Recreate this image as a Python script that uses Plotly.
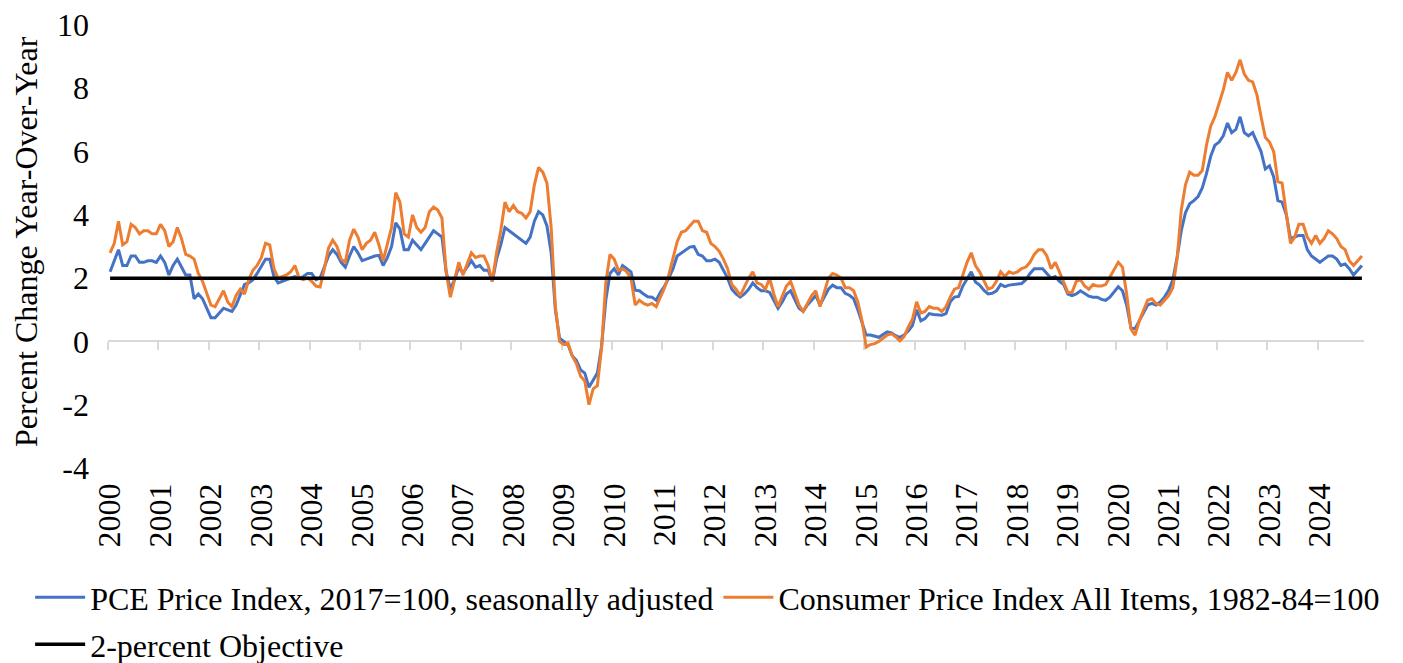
import plotly.graph_objects as go

# ---------------- data (monthly, Jan 2000 - Nov 2024) ----------------
year_labels = [str(y) for y in range(2000, 2025)]

pce = [
    # 2000
    2.2, 2.55, 2.9, 2.4, 2.4, 2.7, 2.7, 2.5, 2.5, 2.55, 2.55, 2.5,
    # 2001
    2.7, 2.5, 2.1, 2.4, 2.6, 2.35, 2.1, 2.1, 1.35, 1.5, 1.35, 1.05,
    # 2002
    0.75, 0.75, 0.9, 1.05, 1.0, 0.95, 1.15, 1.5, 1.8, 1.85, 1.95, 2.15,
    # 2003
    2.4, 2.6, 2.6, 2.05, 1.85, 1.9, 1.95, 2.0, 2.05, 2.0, 2.05, 2.15,
    # 2004
    2.15, 1.95, 2.0, 2.35, 2.7, 2.9, 2.75, 2.5, 2.35, 2.7, 3.0, 2.8,
    # 2005
    2.55, 2.6, 2.65, 2.7, 2.72, 2.4, 2.65, 3.0, 3.75, 3.55, 2.9, 2.9,
    # 2006
    3.2, 3.05, 2.9, 3.1, 3.3, 3.5, 3.4, 3.3, 2.2, 1.65, 1.95, 2.35,
    # 2007
    2.15, 2.35, 2.55, 2.35, 2.4, 2.25, 2.25, 1.9, 2.6, 3.05, 3.6, 3.5,
    # 2008
    3.4, 3.3, 3.2, 3.1, 3.3, 3.8, 4.1, 4.0, 3.65, 2.8, 1.0, 0.1,
    # 2009
    0.0, -0.1, -0.45, -0.6, -0.9, -1.0, -1.45, -1.2, -1.0, -0.15, 1.3, 2.15,
    # 2010
    2.3, 2.1, 2.4, 2.3, 2.2, 1.62, 1.6, 1.5, 1.41, 1.4, 1.3, 1.55,
    # 2011
    1.75, 2.0, 2.3, 2.7, 2.8, 2.9, 2.98, 3.0, 2.75, 2.7, 2.55, 2.55,
    # 2012
    2.6, 2.5, 2.25, 2.0, 1.65, 1.5, 1.4, 1.5, 1.65, 1.85, 1.7, 1.6,
    # 2013
    1.6, 1.55, 1.3, 1.05, 1.25, 1.5, 1.6, 1.35, 1.05, 0.95, 1.15, 1.3,
    # 2014
    1.45, 1.15, 1.4, 1.65, 1.78, 1.7, 1.7, 1.52, 1.46, 1.35, 1.0, 0.6,
    # 2015
    0.2, 0.2, 0.17, 0.13, 0.22, 0.3, 0.27, 0.18, 0.13, 0.2, 0.33, 0.5,
    # 2016
    1.0, 0.65, 0.72, 0.88, 0.85, 0.83, 0.83, 0.88, 1.25, 1.4, 1.42, 1.75,
    # 2017
    2.0, 2.2, 1.88, 1.78, 1.62, 1.5, 1.52, 1.6, 1.8, 1.73, 1.78, 1.8,
    # 2018
    1.8, 1.83, 1.95, 2.15, 2.3, 2.3, 2.3, 2.15, 2.0, 2.05, 1.9, 1.8,
    # 2019
    1.5, 1.45, 1.5, 1.6, 1.5, 1.43, 1.4, 1.4, 1.33, 1.3, 1.4, 1.55,
    # 2020
    1.73, 1.6, 1.15, 0.45, 0.4, 0.65, 0.88, 1.15, 1.2, 1.15, 1.25, 1.4,
    # 2021
    1.62, 1.95, 2.65, 3.5, 4.07, 4.35, 4.45, 4.58, 4.85, 5.3, 5.85, 6.2,
    # 2022
    6.3, 6.5, 6.9, 6.6, 6.7, 7.1, 6.6, 6.5, 6.6, 6.3, 6.0, 5.45,
    # 2023
    5.55, 5.2, 4.45, 4.4, 4.0, 3.25, 3.3, 3.35, 3.35, 2.9, 2.7, 2.6,
    # 2024
    2.5, 2.6, 2.7, 2.7, 2.6, 2.4, 2.45, 2.3, 2.1, 2.25, 2.4,
]

cpi = [
    # 2000
    2.8, 3.1, 3.8, 3.05, 3.15, 3.7, 3.6, 3.4, 3.5, 3.5, 3.4, 3.4,
    # 2001
    3.7, 3.5, 3.0, 3.15, 3.6, 3.25, 2.75, 2.7, 2.6, 2.15, 1.9, 1.55,
    # 2002
    1.15, 1.1, 1.35, 1.6, 1.25, 1.1, 1.45, 1.65, 1.5, 1.95, 2.25, 2.4,
    # 2003
    2.65, 3.1, 3.05, 2.3, 2.0, 2.05, 2.1, 2.2, 2.4, 2.0, 1.95, 2.0,
    # 2004
    1.9, 1.75, 1.72, 2.3, 2.95, 3.2, 3.0, 2.6, 2.5, 3.2, 3.55, 3.3,
    # 2005
    2.9, 3.1, 3.2, 3.45, 3.05, 2.55, 3.1, 3.6, 4.7, 4.4, 3.4, 3.3,
    # 2006
    4.0, 3.6, 3.45, 3.6, 4.1, 4.25, 4.15, 3.9, 2.2, 1.4, 1.95, 2.5,
    # 2007
    2.1, 2.45, 2.8, 2.65, 2.7, 2.7, 2.4, 1.9, 2.8, 3.5, 4.4, 4.1,
    # 2008
    4.3, 4.1, 4.05, 3.9, 4.1, 4.95, 5.5, 5.35, 5.0, 3.6, 1.1, 0.0,
    # 2009
    -0.1, -0.05, -0.45, -0.7, -1.1, -1.25, -2.0, -1.5, -1.4, -0.2, 1.85, 2.75,
    # 2010
    2.6, 2.25, 2.3, 2.2, 2.0, 1.15, 1.3, 1.2, 1.15, 1.2, 1.1, 1.4,
    # 2011
    1.7, 2.1, 2.65, 3.15, 3.45, 3.5, 3.65, 3.8, 3.8, 3.5, 3.45, 3.1,
    # 2012
    3.0, 2.85, 2.6, 2.3, 1.8, 1.65, 1.45, 1.75, 2.0, 2.2, 1.85, 1.8,
    # 2013
    1.65, 2.0, 1.5, 1.1, 1.4, 1.75, 1.9, 1.5, 1.15, 0.95, 1.2, 1.45,
    # 2014
    1.6, 1.1, 1.55, 2.0, 2.15, 2.1, 2.0, 1.7, 1.7, 1.6, 1.25, 0.65,
    # 2015
    -0.18, -0.1, -0.07, 0.0, 0.1, 0.2, 0.24, 0.15, 0.02, 0.15, 0.45, 0.7,
    # 2016
    1.25, 0.9, 0.95, 1.1, 1.05, 1.05, 0.95, 1.1, 1.4, 1.65, 1.7, 2.1,
    # 2017
    2.5, 2.8, 2.4, 2.2, 1.9, 1.65, 1.7, 1.9, 2.2, 2.05, 2.2, 2.15,
    # 2018
    2.2, 2.3, 2.35, 2.5, 2.75, 2.9, 2.9, 2.7, 2.3, 2.5, 2.2, 1.9,
    # 2019
    1.55, 1.55, 1.9, 1.95, 1.75, 1.65, 1.8, 1.75, 1.75, 1.8, 2.05, 2.3,
    # 2020
    2.5, 2.35, 1.5, 0.4, 0.2, 0.65, 1.0, 1.3, 1.35, 1.2, 1.15, 1.3,
    # 2021
    1.45, 1.7, 2.6, 4.15, 4.95, 5.35, 5.25, 5.25, 5.4, 6.2, 6.8, 7.1,
    # 2022
    7.55, 7.95, 8.5, 8.25, 8.5, 8.9, 8.45, 8.25, 8.2, 7.8, 7.1, 6.45,
    # 2023
    6.3, 6.0, 5.05, 5.0, 4.05, 3.1, 3.3, 3.7, 3.7, 3.3, 3.1, 3.35,
    # 2024
    3.1, 3.25, 3.5, 3.4, 3.25, 3.0, 2.9, 2.55, 2.4, 2.55, 2.7,
]

objective_value = 2.0

y_tick_values = [-4, -2, 0, 2, 4, 6, 8, 10]
y_tick_labels = ["-4", "-2", "0", "2", "4", "6", "8", "10"]

series_names = [
    "PCE Price Index, 2017=100, seasonally adjusted",
    "Consumer Price Index All Items, 1982-84=100",
    "2-percent Objective",
]
axis_title = "Percent Change Year-Over-Year"

# ---------------- figure ----------------
n = len(cpi)
months = list(range(n))
objective = [objective_value] * n
year_pos = [12 * k for k in range(len(year_labels))]
year_bounds = [12 * k - 0.5 for k in range(len(year_labels))]

FONT = "Liberation Serif, Times New Roman, serif"
FS = 32

fig = go.Figure()
fig.add_trace(go.Scatter(x=months, y=pce, mode="lines", name=series_names[0],
                         line=dict(color="#4472C4", width=3), legend="legend"))
fig.add_trace(go.Scatter(x=months, y=cpi, mode="lines", name=series_names[1],
                         line=dict(color="#ED7D31", width=3), legend="legend"))
fig.add_trace(go.Scatter(x=months, y=objective, mode="lines", name=series_names[2],
                         line=dict(color="#000000", width=3.5), xaxis="x2",
                         legend="legend2"))

xr = [-0.5, n - 0.5]
yr = [-4, 10]

legend_common = dict(orientation="h", xanchor="left", yanchor="top",
                     font=dict(family=FONT, size=FS, color="#000000"),
                     bgcolor="rgba(0,0,0,0)", itemwidth=50, tracegroupgap=0,
                     traceorder="normal")

fig.update_layout(
    width=1403, height=663,
    margin=dict(l=108, r=39, t=25, b=195, pad=0, autoexpand=False),
    paper_bgcolor="white", plot_bgcolor="white",
    font=dict(family=FONT, size=FS, color="#000000"),
    showlegend=True,
    legend=dict(x=-0.062, y=-0.230, **legend_common),
    legend2=dict(x=-0.062, y=-0.336, **legend_common),
    xaxis=dict(range=xr, tickmode="array", tickvals=year_pos, ticktext=year_labels,
               tickangle=-90, showgrid=False, zeroline=False, showline=False,
               ticks="", ticklabelstandoff=8,
               tickfont=dict(family=FONT, size=FS, color="#000000")),
    xaxis2=dict(range=xr, overlaying="x", anchor="free", position=(0 - yr[0]) / (yr[1] - yr[0]),
                showline=True, linecolor="#D9D9D9", linewidth=1.5,
                ticks="outside", ticklen=8, tickwidth=1.5, tickcolor="#D9D9D9",
                tickmode="array", tickvals=year_bounds, showticklabels=False,
                showgrid=False, zeroline=False, layer="below traces"),
    yaxis=dict(range=yr, tickmode="array", tickvals=y_tick_values, ticktext=y_tick_labels,
               showgrid=False, zeroline=False, showline=False, ticks="",
               ticklabelstandoff=18,
               tickfont=dict(family=FONT, size=FS, color="#000000")),
    annotations=[dict(text=axis_title, xref="paper", yref="paper",
                      x=(26 - 108) / 1256, y=0.51, xanchor="center", yanchor="middle",
                      textangle=-90, showarrow=False,
                      font=dict(family=FONT, size=FS, color="#000000"))],
)

fig.write_html("out.html", include_plotlyjs=True,
               config={"displayModeBar": False, "responsive": False},
               post_script="document.body.style.margin='0';document.body.style.overflow='hidden';")
